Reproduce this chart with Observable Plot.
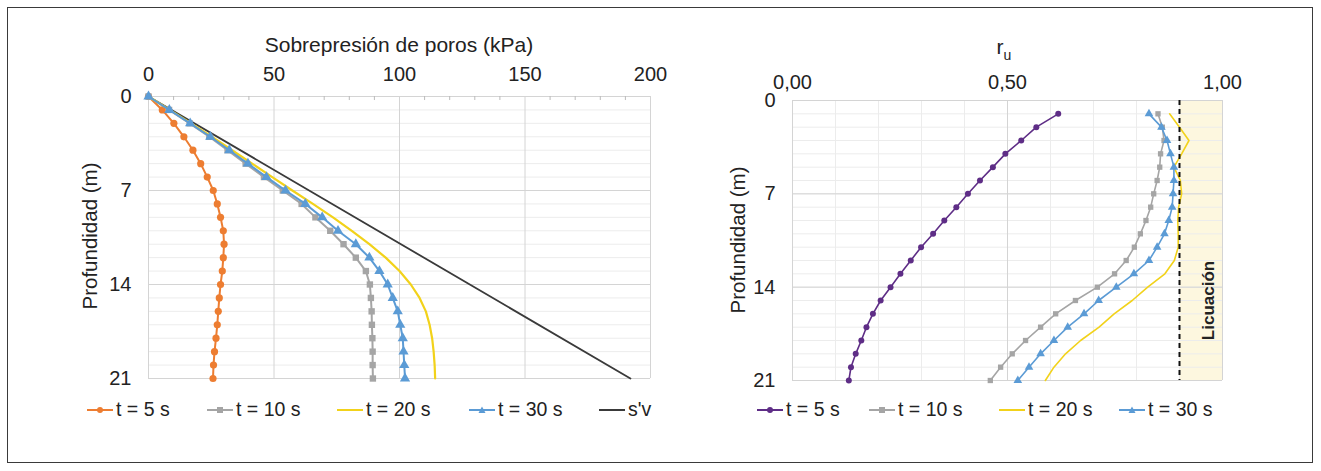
<!DOCTYPE html>
<html>
<head>
<meta charset="utf-8">
<script src="https://cdn.jsdelivr.net/npm/d3@7"></script>
<script src="https://cdn.jsdelivr.net/npm/@observablehq/plot@0.6"></script>
<style>
  body { margin: 0; background: #fff; font-family: "Liberation Sans", Arial, sans-serif; color: #222; }
  #fig { position: relative; width: 1321px; height: 471px; overflow: hidden; }
  .frame { position: absolute; left: 7px; top: 7px; width: 1306px; height: 456px; border: 1.5px solid #3a3a3a; box-sizing: border-box; }
  .panel { position: absolute; top: 0; }
  .title { position: absolute; font-size: 21px; white-space: nowrap; transform: translate(-50%, -50%); }
  .ytitle { position: absolute; font-size: 20.5px; white-space: nowrap; transform: translate(-50%, -50%) rotate(-90deg); }
  .item { position: absolute; top: 398px; display: flex; align-items: center; font-size: 19.5px; white-space: nowrap; }
  .item svg { margin-right: 3px; }
  sub { font-size: 14px; }
</style>
</head>
<body>
<div id="fig">
  <div class="frame"></div>
  <div id="left" class="panel" style="left:0"></div>
  <div id="right" class="panel" style="left:700px"></div>
  <div class="title" style="left:399px; top:45px">Sobrepresión de poros (kPa)</div>
  <div class="title" style="left:1004px; top:49px">r<sub>u</sub></div>
  <div class="ytitle" style="left:90px; top:236px">Profundidad (m)</div>
  <div class="ytitle" style="left:738px; top:240px">Profundidad (m)</div>
  <div id="legend"></div>
</div>
<script>
// Depth of each computation node (m)
const depthLeft = [0, 1, 2, 3, 4, 5, 6, 7, 8, 9, 10, 11, 12, 13, 14, 15, 16, 17, 18, 19, 20, 21];
const depthRight = [1, 2, 3, 4, 5, 6, 7, 8, 9, 10, 11, 12, 13, 14, 15, 16, 17, 18, 19, 20, 21];

// Excess pore pressure (kPa) at each depth
const u5  = [0, 5.5, 10.1, 14.1, 17.7, 20.8, 23.4, 25.8, 27.4, 28.7, 29.8, 30.1, 29.8, 29.4, 28.7, 28.2, 27.8, 27.4, 26.9, 26.3, 25.9, 25.7];
const u10 = [0, 8.2, 16.4, 24.2, 31.5, 38.7, 46, 53.5, 61, 66.5, 72.4, 77.7, 82.6, 86.6, 88.2, 88.6, 88.9, 89, 89.2, 89.3, 89.3, 89.4];
const u20 = [0, 8.5, 17, 25.2, 33.3, 41.3, 49.3, 57.3, 65.5, 73.5, 81, 88, 94.5, 100, 104.5, 108, 110.5, 112, 113, 113.6, 114, 114.2];
const u30 = [0, 8.3, 16.6, 24.6, 32.2, 39.6, 47, 54.6, 62.5, 69.2, 75.5, 82.6, 88, 92, 95.3, 97.3, 99.3, 100.3, 101.3, 101.6, 101.9, 102.2];

// Effective vertical stress s'v (kPa)
const svDepth = [0, 21];
const svValue = [0, 192];

// Pore pressure ratio r_u at each depth
const ru5  = [0.618, 0.567, 0.532, 0.495, 0.466, 0.436, 0.408, 0.381, 0.353, 0.327, 0.299, 0.275, 0.251, 0.228, 0.205, 0.187, 0.172, 0.160, 0.147, 0.136, 0.131];
const ru10 = [0.850, 0.860, 0.864, 0.856, 0.854, 0.848, 0.840, 0.833, 0.822, 0.809, 0.795, 0.776, 0.749, 0.709, 0.658, 0.612, 0.577, 0.542, 0.511, 0.484, 0.460];
const ru20 = [0.877, 0.900, 0.922, 0.905, 0.887, 0.902, 0.905, 0.898, 0.896, 0.897, 0.897, 0.888, 0.866, 0.826, 0.790, 0.748, 0.713, 0.670, 0.635, 0.608, 0.588];
const ru30 = [0.829, 0.858, 0.871, 0.879, 0.887, 0.887, 0.885, 0.883, 0.875, 0.865, 0.848, 0.829, 0.794, 0.753, 0.712, 0.678, 0.640, 0.608, 0.577, 0.550, 0.524];

// Liquefaction threshold and zone
const ruLiq = 0.9;
const ruMax = 1.0;
const liqLabel = "Licuación";

// Axis ticks
const depthTicks = [0, 7, 14, 21];
const uTicks = [0, 50, 100, 150, 200];
const uMinor = [10, 20, 30, 40, 60, 70, 80, 90, 110, 120, 130, 140, 160, 170, 180, 190];
const ruTicks = [0, 0.5, 1];
const ruMinor = [0.1, 0.2, 0.3, 0.4, 0.6, 0.7, 0.8, 0.9];

// Series names and colours
const namesLeft = ["t = 5 s", "t = 10 s", "t = 20 s", "t = 30 s", "s'v"];
const namesRight = ["t = 5 s", "t = 10 s", "t = 20 s", "t = 30 s"];
const cOrange = "#ed7d31", cGray = "#a5a5a5", cYellow = "#f2d21a", cBlue = "#5b9bd5", cBlack = "#3a3a3a", cPurple = "#5e2d86";

const rows = (ys, xs) => ys.map((d, i) => ({depth: d, v: xs[i]}));
const font = {fontFamily: "'Liberation Sans', Arial, sans-serif", fontSize: "20px", color: "#222", background: "transparent", overflow: "visible"};

const gridMinor = "#ececec", gridMajor = "#d4d4d4";

const left = Plot.plot({
  width: 700, height: 390,
  marginLeft: 148, marginRight: 50, marginTop: 96, marginBottom: 12,
  style: font,
  x: {domain: [0, 200]},
  y: {domain: [0, 21], reverse: true},
  marks: [
    Plot.ruleY(depthLeft, {stroke: gridMinor}),
    Plot.ruleY(depthTicks, {stroke: gridMajor}),
    Plot.ruleX(uTicks, {stroke: gridMajor}),
    Plot.ruleX(uMinor, {y1: 0, y2: 0.3, stroke: "#bbb"}),
    Plot.axisX({anchor: "top", ticks: uTicks, tickSize: 0, tickPadding: 16, label: null, fontSize: 20}),
    Plot.axisY({anchor: "left", ticks: depthTicks, tickSize: 0, tickPadding: 17, label: null, fontSize: 20}),
    Plot.line(rows(svDepth, svValue), {x: "v", y: "depth", stroke: cBlack, strokeWidth: 1.8}),
    Plot.line(rows(depthLeft, u5), {x: "v", y: "depth", stroke: cOrange, strokeWidth: 2}),
    Plot.dot(rows(depthLeft, u5), {x: "v", y: "depth", fill: cOrange, r: 3.6}),
    Plot.line(rows(depthLeft, u10), {x: "v", y: "depth", stroke: cGray, strokeWidth: 2}),
    Plot.dot(rows(depthLeft, u10), {x: "v", y: "depth", fill: cGray, symbol: "square", r: 3.6}),
    Plot.line(rows(depthLeft, u20), {x: "v", y: "depth", stroke: cYellow, strokeWidth: 2.2}),
    Plot.line(rows(depthLeft, u30), {x: "v", y: "depth", stroke: cBlue, strokeWidth: 2}),
    Plot.dot(rows(depthLeft, u30), {x: "v", y: "depth", fill: cBlue, symbol: "triangle", r: 3.8})
  ]
});
document.getElementById("left").append(left);

const right = Plot.plot({
  width: 621, height: 390,
  marginLeft: 92, marginRight: 99, marginTop: 100, marginBottom: 10,
  style: font,
  x: {domain: [0, 1]},
  y: {domain: [0, 21], reverse: true},
  marks: [
    Plot.rectX([{a: ruLiq, b: ruMax}], {x1: "a", x2: "b", y1: 0, y2: 21, fill: "#fdf7df"}),
    Plot.ruleY(depthLeft, {stroke: gridMinor}),
    Plot.ruleX(ruMinor, {stroke: gridMinor}),
    Plot.ruleY(depthTicks, {stroke: gridMajor}),
    Plot.ruleX(ruTicks, {stroke: gridMajor}),
    Plot.axisX({anchor: "top", ticks: ruTicks, tickSize: 0, tickPadding: 12, label: null, fontSize: 20,
      tickFormat: d => d.toFixed(2).replace(".", ",")}),
    Plot.axisY({anchor: "left", ticks: depthTicks, tickSize: 0, tickPadding: 17, label: null, fontSize: 20}),
    Plot.line(rows(depthRight, ru5), {x: "v", y: "depth", stroke: cPurple, strokeWidth: 1.6}),
    Plot.dot(rows(depthRight, ru5), {x: "v", y: "depth", fill: cPurple, r: 3}),
    Plot.line(rows(depthRight, ru10), {x: "v", y: "depth", stroke: cGray, strokeWidth: 1.6}),
    Plot.dot(rows(depthRight, ru10), {x: "v", y: "depth", fill: cGray, symbol: "square", r: 3}),
    Plot.line(rows(depthRight, ru20), {x: "v", y: "depth", stroke: cYellow, strokeWidth: 1.6}),
    Plot.line(rows(depthRight, ru30), {x: "v", y: "depth", stroke: cBlue, strokeWidth: 1.6}),
    Plot.dot(rows(depthRight, ru30), {x: "v", y: "depth", fill: cBlue, symbol: "triangle", r: 3.2}),
    Plot.ruleX([ruLiq], {stroke: "#111", strokeWidth: 2, strokeDasharray: "5,4"}),
    Plot.text([liqLabel], {x: 0.967, y: 15, text: d => d, rotate: -90, fontSize: 17, fontWeight: "bold", fill: "#222"})
  ]
});
document.getElementById("right").append(right);

// Legend entries: swatch line with the series marker
function swatch(color, marker) {
  const w = 26, h = 14, cy = 7;
  let m = "";
  if (marker === "circle") m = `<circle cx="13" cy="${cy}" r="3" fill="${color}"/>`;
  if (marker === "square") m = `<rect x="10" y="${cy - 3}" width="6" height="6" fill="${color}"/>`;
  if (marker === "triangle") m = `<path d="M13,${cy - 3.5}L16.5,${cy + 3}L9.5,${cy + 3}Z" fill="${color}"/>`;
  return `<svg width="${w}" height="${h}"><line x1="0" x2="${w}" y1="${cy}" y2="${cy}" stroke="${color}" stroke-width="2"/>${m}</svg>`;
}
const legendLeft = [
  {x: 87, c: cOrange, m: "circle"}, {x: 207, c: cGray, m: "square"}, {x: 337, c: cYellow, m: null},
  {x: 469, c: cBlue, m: "triangle"}, {x: 599, c: cBlack, m: null}
];
const legendRight = [
  {x: 757, c: cPurple, m: "circle"}, {x: 869, c: cGray, m: "square"}, {x: 999, c: cYellow, m: null},
  {x: 1119, c: cBlue, m: "triangle"}
];
const lg = document.getElementById("legend");
legendLeft.forEach((d, i) => {
  const el = document.createElement("div");
  el.className = "item"; el.style.left = d.x + "px";
  el.innerHTML = swatch(d.c, d.m) + `<span>${namesLeft[i]}</span>`;
  lg.append(el);
});
legendRight.forEach((d, i) => {
  const el = document.createElement("div");
  el.className = "item"; el.style.left = d.x + "px";
  el.innerHTML = swatch(d.c, d.m) + `<span>${namesRight[i]}</span>`;
  lg.append(el);
});
</script>
</body>
</html>
